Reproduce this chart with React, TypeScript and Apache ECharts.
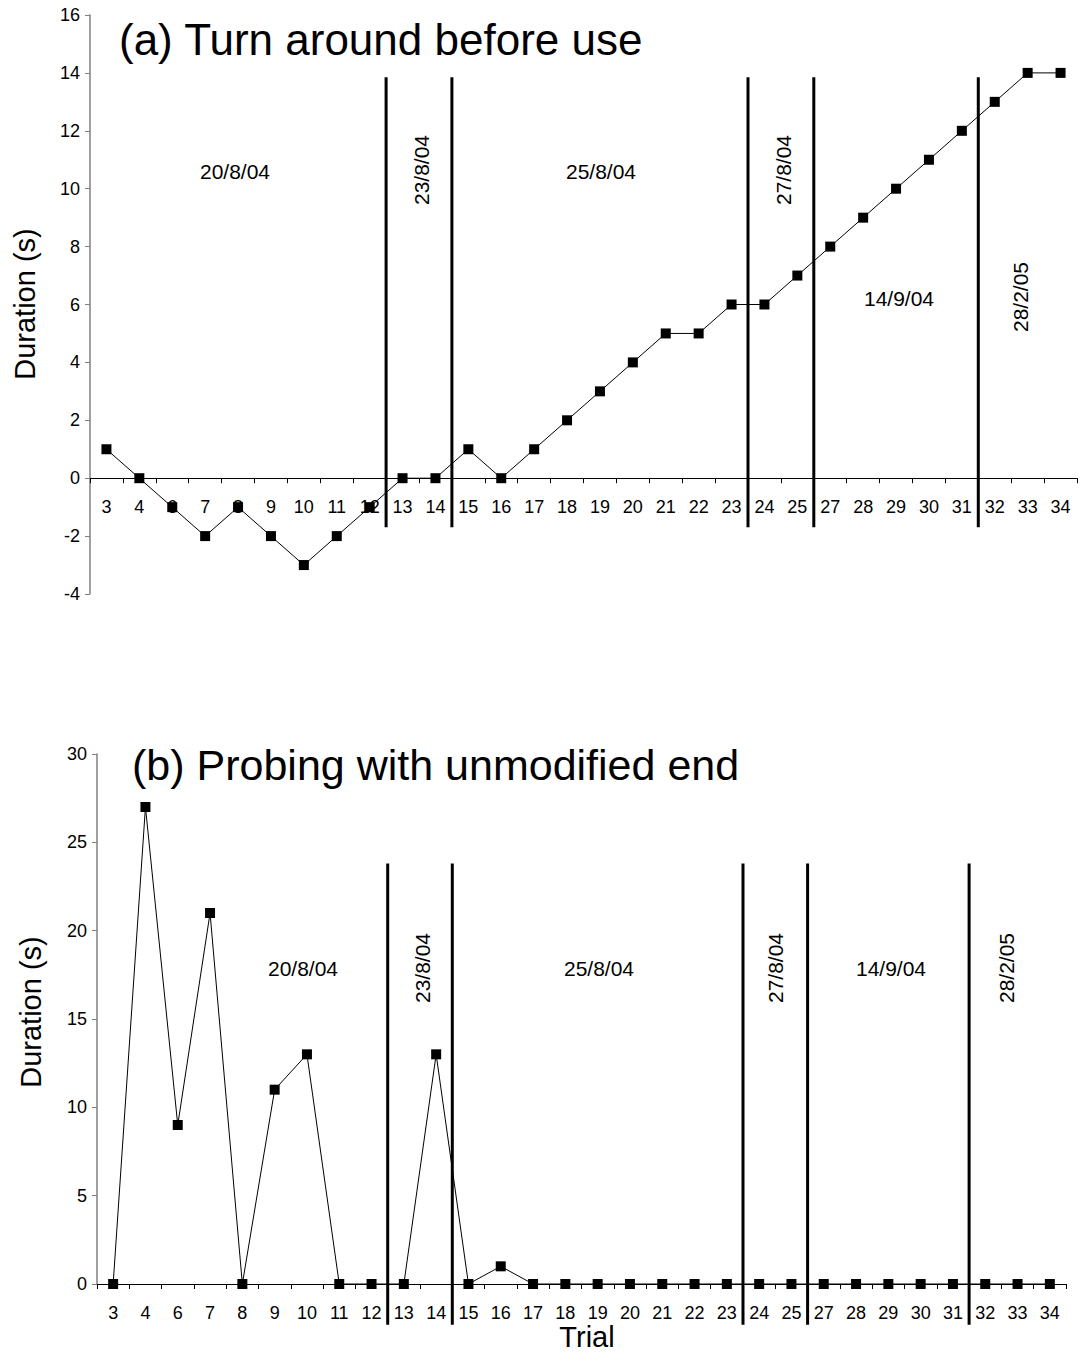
import React, { useEffect, useRef } from "react";
import * as echarts from "echarts";

// ---------- data ----------
const trials = ["3", "4", "6", "7", "8", "9", "10", "11", "12", "13", "14", "15", "16", "17", "18", "19", "20", "21", "22", "23", "24", "25", "27", "28", "29", "30", "31", "32", "33", "34"];
const turnAroundDuration = [1, 0, -1, -2, -1, -2, -3, -2, -1, 0, 0, 1, 0, 1, 2, 3, 4, 5, 5, 6, 6, 7, 8, 9, 10, 11, 12, 13, 14, 14];
const probingDuration = [0, 27, 9, 21, 0, 11, 13, 0, 0, 0, 13, 0, 1, 0, 0, 0, 0, 0, 0, 0, 0, 0, 0, 0, 0, 0, 0, 0, 0, 0];
const sessionBoundaryAfter = ["12", "14", "23", "25", "31"];
const sessionDates = ["20/8/04", "23/8/04", "25/8/04", "27/8/04", "14/9/04", "28/2/05"];
const sessionDateVertical = [false, true, false, true, false, true];
const panelTitles = ["(a) Turn around before use", "(b) Probing with unmodified end"];
const yAxisTitle = "Duration (s)";
const xAxisTitle = "Trial";
const yRangeA = { min: -4, max: 16, interval: 2 };
const yRangeB = { min: 0, max: 30, interval: 5 };

// ---------- layout ----------
const FONT = '"Liberation Sans", Arial, Helvetica, sans-serif';
const gridA = { left: 90, top: 15, width: 987, height: 579 };
const gridB = { left: 97, top: 754, width: 969, height: 530 };
const dateLabelPosA = [[235, 171], [421, 170], [601, 171], [783, 170], [899, 298], [1020, 297]];
const dateLabelPosB = [[303, 968], [422, 968], [599, 968], [775, 968], [891, 968], [1006, 968]];
const dividerExtentA = [13.85, -1.69];
const dividerExtentB = [23.8, -2.3];

// x axis sits at y = 0 of each panel
const zeroOffset = (h: number, r: { min: number; max: number }) => -h * (0 - r.min) / (r.max - r.min);

const catAxis = (gridIndex: number, offset: number) => ({
  type: "category",
  gridIndex,
  data: trials,
  boundaryGap: true,
  position: "bottom",
  offset,
  axisLine: { show: true, onZero: false, lineStyle: { color: "#000", width: 1 } },
  axisTick: { show: true, inside: false, length: 5, alignWithLabel: false, interval: 0, lineStyle: { color: "#000", width: 1 } },
  axisLabel: { interval: 0, margin: 20, color: "#000", fontSize: 18, fontFamily: FONT },
  splitLine: { show: false },
});

const hiddenValueAxis = (gridIndex: number) => ({
  type: "value",
  gridIndex,
  min: -0.5,
  max: trials.length - 0.5,
  show: false,
});

const valAxis = (gridIndex: number, r: { min: number; max: number; interval: number }) => ({
  type: "value",
  gridIndex,
  min: r.min,
  max: r.max,
  interval: r.interval,
  axisLine: { show: true, onZero: false, lineStyle: { color: "#808080", width: 1.5 } },
  axisTick: { show: true, inside: false, length: 5, lineStyle: { color: "#808080", width: 1 } },
  axisLabel: { color: "#000", fontSize: 18, margin: 10, fontFamily: FONT },
  splitLine: { show: false },
});

const dividerSeries = (xAxisIndex: number, yAxisIndex: number, extent: number[]) =>
  sessionBoundaryAfter.map((t) => {
    const pos = trials.indexOf(t) + 0.5;
    return {
      type: "line",
      xAxisIndex,
      yAxisIndex,
      data: [[pos, extent[0]], [pos, extent[1]]],
      symbol: "none",
      clip: false,
      silent: true,
      z: 3,
      lineStyle: { color: "#000", width: 3 },
    };
  });

const dataSeries = (xAxisIndex: number, yAxisIndex: number, values: number[]) => ({
  type: "line",
  xAxisIndex,
  yAxisIndex,
  data: values,
  symbol: "rect",
  symbolSize: 10,
  z: 4,
  lineStyle: { color: "#000", width: 1 },
  itemStyle: { color: "#000" },
});

const dateLabels = (pos: number[][]) =>
  sessionDates.map((d, i) => ({
    type: "text",
    x: pos[i][0],
    y: pos[i][1],
    rotation: sessionDateVertical[i] ? Math.PI / 2 : 0,
    style: { text: d, font: `21px ${FONT}`, fill: "#000", align: "center", verticalAlign: "middle" },
  }));

export default function App() {
  const ref = useRef<HTMLDivElement>(null);
  useEffect(() => {
    if (!ref.current) return;
    const chart = echarts.init(ref.current, null, { renderer: "svg" });
    chart.setOption({
      animation: false,
      backgroundColor: "#fff",
      textStyle: { fontFamily: FONT },
      grid: [
        { ...gridA, containLabel: false },
        { ...gridB, containLabel: false },
      ],
      xAxis: [
        catAxis(0, zeroOffset(gridA.height, yRangeA)),
        hiddenValueAxis(0),
        catAxis(1, zeroOffset(gridB.height, yRangeB)),
        hiddenValueAxis(1),
      ],
      yAxis: [valAxis(0, yRangeA), valAxis(1, yRangeB)],
      series: [
        ...dividerSeries(1, 0, dividerExtentA),
        ...dividerSeries(3, 1, dividerExtentB),
        dataSeries(0, 0, turnAroundDuration),
        dataSeries(2, 1, probingDuration),
      ],
      graphic: [
        { type: "text", x: 119, y: 39, style: { text: panelTitles[0], font: `44px ${FONT}`, fill: "#000", align: "left", verticalAlign: "middle" } },
        { type: "text", x: 132, y: 765, style: { text: panelTitles[1], font: `43px ${FONT}`, fill: "#000", align: "left", verticalAlign: "middle" } },
        { type: "text", x: 25, y: 304, rotation: Math.PI / 2, style: { text: yAxisTitle, font: `29px ${FONT}`, fill: "#000", align: "center", verticalAlign: "middle" } },
        { type: "text", x: 31, y: 1012, rotation: Math.PI / 2, style: { text: yAxisTitle, font: `29px ${FONT}`, fill: "#000", align: "center", verticalAlign: "middle" } },
        { type: "text", x: 587, y: 1337, style: { text: xAxisTitle, font: `29px ${FONT}`, fill: "#000", align: "center", verticalAlign: "middle" } },
        ...dateLabels(dateLabelPosA),
        ...dateLabels(dateLabelPosB),
      ],
    });
    return () => chart.dispose();
  }, []);
  return (
    <div
      ref={ref}
      style={{ position: "absolute", left: 0, top: 0, width: 1083, height: 1360, background: "#fff" }}
    />
  );
}
